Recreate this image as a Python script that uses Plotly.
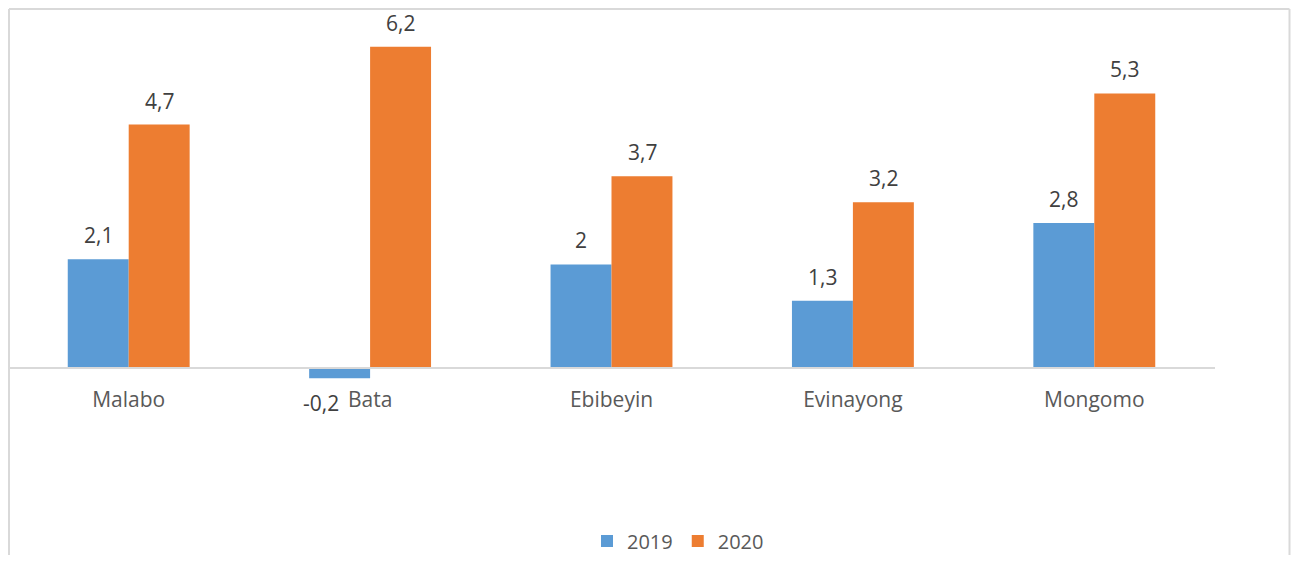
import plotly.graph_objects as go

categories = ["Malabo", "Bata", "Ebibeyin", "Evinayong", "Mongomo"]
series_names = ["2019", "2020"]
values_2019 = [2.1, -0.2, 2.0, 1.3, 2.8]
values_2020 = [4.7, 6.2, 3.7, 3.2, 5.3]

colors = ["#5B9BD5", "#ED7D31"]
FONT = "Open Sans"

# page body has an 8px default margin; keep the page exactly the window size
OFFX, OFFY = 8, 8
W, H = 1299 - 2 * OFFX, 563 - 2 * OFFY
plot_l, plot_r = 8 - OFFX, 1215 - OFFX
plot_t, plot_b = 9 - OFFY, H
zero_px = 368 - OFFY
px_per_unit = 51.8
y_top = (zero_px - plot_t) / px_per_unit
y_bot = -(plot_b - zero_px) / px_per_unit
pw = plot_r - plot_l
ph = plot_b - plot_t

fig = go.Figure()
for name, vals, col in zip(series_names, [values_2019, values_2020], colors):
    fig.add_trace(go.Bar(x=categories, y=vals, name=name,
                         marker=dict(color=col, line=dict(width=0))))

def fmt(v):
    return f"{v:g}".replace(".", ",")

half_bar = pw / len(categories) * 0.2527 / 2
for si, vals in enumerate([values_2019, values_2020]):
    sign = -1 if si == 0 else 1
    for c, v in zip(categories, vals):
        pos = v >= 0
        fig.add_annotation(
            x=c, y=v, xref="x", yref="y", text=fmt(v), showarrow=False,
            xshift=sign * half_bar + (0 if pos else -19),
            yanchor="bottom" if pos else "top",
            yshift=8 if pos else -9,
            font=dict(family=FONT, size=21, color="#404040"),
        )

# chart-area border (left, top, right)
xr = (W - 1.5 - plot_l) / pw
xl = 1 / pw
yt = 1 + (plot_t - 1) / ph
yb = -20 / ph
for x0, y0, x1, y1 in [(xl, yb, xl, yt), (xl, yt, xr, yt), (xr, yt, xr, yb)]:
    fig.add_shape(type="line", xref="paper", yref="paper", x0=x0, y0=y0, x1=x1, y1=y1,
                  line=dict(color="#D9D9D9", width=2), layer="above")

fig.update_layout(
    width=W, height=H,
    margin=dict(l=plot_l, r=W - plot_r, t=plot_t, b=H - plot_b, autoexpand=False),
    paper_bgcolor="white", plot_bgcolor="white",
    barmode="group", bargap=0.495, bargroupgap=0,
    showlegend=True,
    legend=dict(orientation="h", x=(607 - OFFX - 20 - plot_l) / pw, xanchor="left",
                y=(plot_b - (541 - OFFY)) / ph, yanchor="middle",
                font=dict(family=FONT, size=20, color="#595959"),
                itemclick=False, bgcolor="rgba(0,0,0,0)"),
    xaxis=dict(anchor="free", position=(plot_b - zero_px) / ph,
               showline=True, linecolor="#D9D9D9", linewidth=1.5,
               showgrid=False, ticks="", ticklabelstandoff=13, automargin=False,
               tickfont=dict(family=FONT, size=21, color="#595959"), fixedrange=True),
    yaxis=dict(range=[y_bot, y_top], showgrid=False, zeroline=False, automargin=False,
               showticklabels=False, showline=False, fixedrange=True),
)

fig.write_html("out.html")
